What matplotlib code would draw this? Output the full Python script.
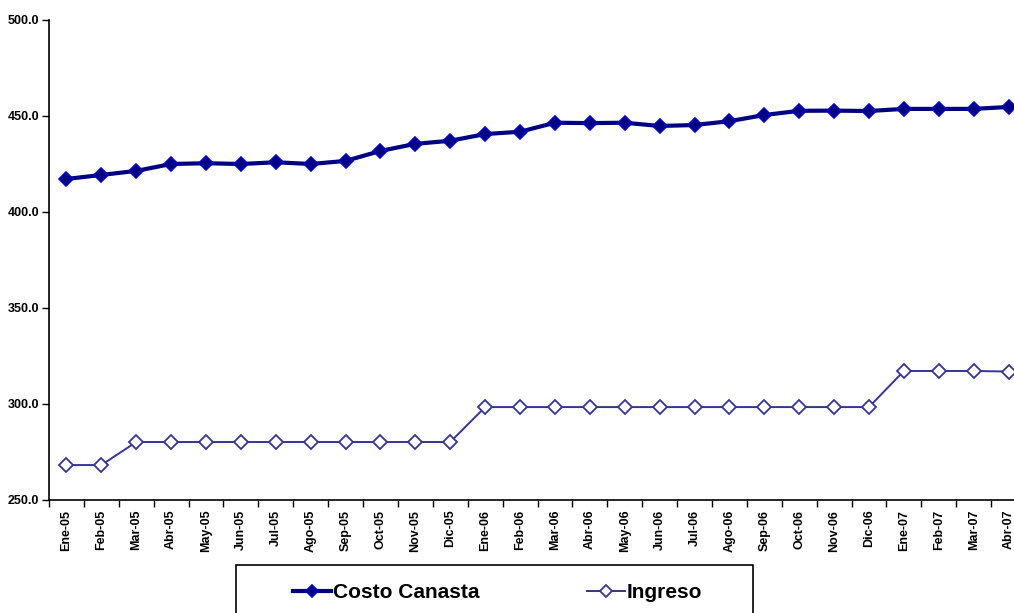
import matplotlib
matplotlib.use("Agg")
import matplotlib.pyplot as plt
from matplotlib.patches import Rectangle
import numpy as np

"""DATA"""
months = ["Ene-05", "Feb-05", "Mar-05", "Abr-05", "May-05", "Jun-05", "Jul-05",
          "Ago-05", "Sep-05", "Oct-05", "Nov-05", "Dic-05",
          "Ene-06", "Feb-06", "Mar-06", "Abr-06", "May-06", "Jun-06", "Jul-06",
          "Ago-06", "Sep-06", "Oct-06", "Nov-06", "Dic-06",
          "Ene-07", "Feb-07", "Mar-07", "Abr-07"]

costo_canasta = [417.2, 419.3, 421.4, 425.0, 425.4, 425.0, 425.9, 425.0, 426.6,
                 431.8, 435.5, 437.1, 440.6, 441.8, 446.5, 446.3, 446.5, 444.8,
                 445.3, 447.3, 450.5, 452.7, 452.8, 452.6, 453.7, 453.7, 453.7,
                 454.7]

ingreso = [268.2, 268.2, 280.2, 280.2, 280.2, 280.2, 280.2, 280.2, 280.2,
           280.2, 280.2, 280.2, 298.4, 298.4, 298.4, 298.4, 298.4, 298.4,
           298.4, 298.4, 298.4, 298.4, 298.4, 298.4, 317.2, 317.2, 317.2,
           316.9]

yticks = [250, 300, 350, 400, 450, 500]
"""END DATA"""

plt.rcParams['font.family'] = ['Liberation Sans', 'DejaVu Sans']
plt.rcParams['font.weight'] = 'bold'

fig = plt.figure(figsize=(10.14, 6.13), dpi=100)
W, H = 1014, 613
ax = fig.add_axes([49 / W, 1 - 500 / H, 977 / W, 480 / H])

x = np.arange(len(months))
ax.plot(x, costo_canasta, color="#000080", lw=3, marker="D", ms=7,
        mfc="#000080", mec="#0000cc", mew=1.2, label="Costo Canasta", zorder=3)
ax.plot(x, ingreso, color="#333399", lw=1.4, marker="D", ms=7,
        mfc="white", mec="#333399", mew=1.3, label="Ingreso", zorder=3)

ax.set_xlim(-0.5, len(months) - 0.5)
ax.set_ylim(250, 500)
ax.set_yticks(yticks)
ax.set_yticklabels([f"{v:.1f}" for v in yticks], fontsize=9, fontweight="bold")

# labels at category centers, tick marks between categories (Excel style)
ax.set_xticks(x)
ax.set_xticklabels(months, rotation=90, fontsize=9, fontweight="bold")
ax.tick_params(axis="x", which="major", length=0, pad=7)
ax.set_xticks(np.arange(-0.5, len(months), 1.0), minor=True)
ax.tick_params(axis="x", which="minor", length=5, width=1, direction="out")
ax.tick_params(axis="y", length=5, width=1, direction="out", pad=2)

for side in ["top", "right"]:
    ax.spines[side].set_visible(False)
for side in ["left", "bottom"]:
    ax.spines[side].set_linewidth(1.2)

# legend box (runs off the bottom edge like the original)
fig.patches.append(Rectangle((236 / W, -0.05), 517 / W, 0.05 + (613 - 565) / H,
                             transform=fig.transFigure, fill=False,
                             edgecolor="black", lw=1.2))

leg = fig.legend(loc="center left", bbox_to_anchor=(293 / W, 1 - 593 / H),
                 ncol=2, prop={"weight": "bold", "size": 15}, frameon=False,
                 handlelength=1.8, handletextpad=0.1, columnspacing=5.2,
                 markerscale=0.85, borderpad=0, borderaxespad=0)

fig.savefig("out.png", dpi=100)
